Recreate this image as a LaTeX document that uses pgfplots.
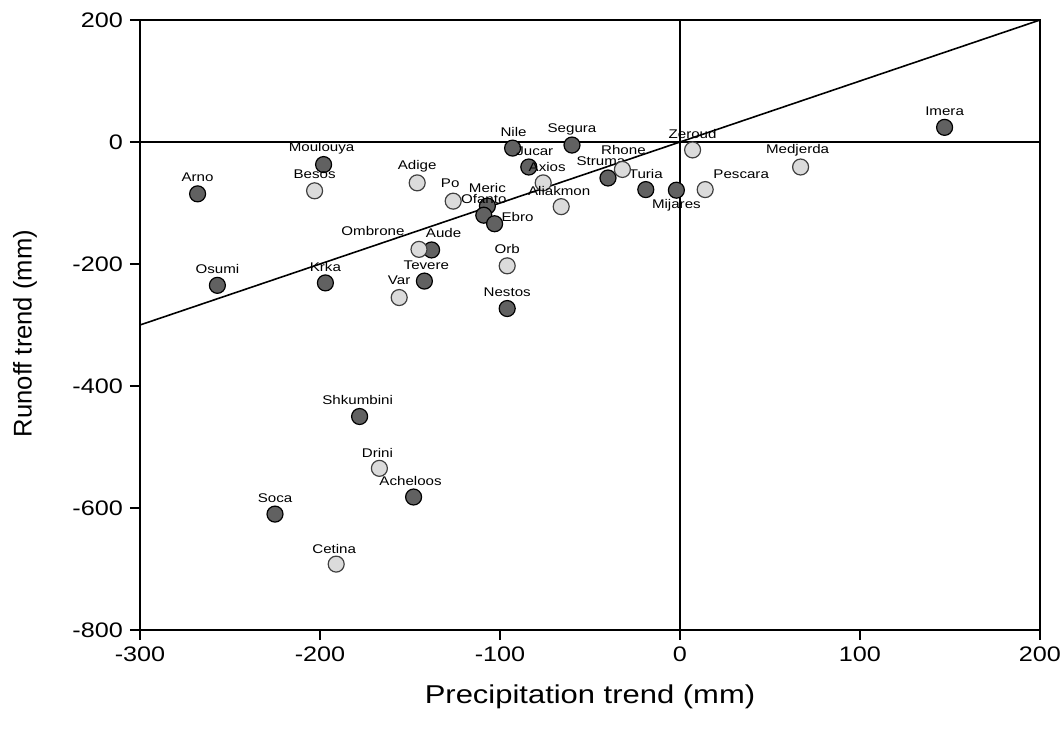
\documentclass[border=0pt]{standalone}
\usepackage{fontspec}
\setmainfont{Liberation Sans}[FakeStretch=1.2]
\newfontfamily\plainfont{Liberation Sans}
\usepackage{pgfplots}
\pgfplotsset{compat=1.18}
\usepackage{pgfplotstable}

\definecolor{darkfill}{gray}{0.38}
\definecolor{lightfill}{gray}{0.86}

\pgfplotstableread{
x y label dx dy
-268 -85 Arno 0 8.5
-257 -235 Osumi 0 8
-198 -37 Moulouya -1 8
-197 -231 Krka 0 8
-138 -177 Aude 6 8.5
-142 -228 Tevere 1 8
-93 -10 Nile 0.5 8
-84 -41 Jucar 3 8
-60 -5 Segura 0 8
-107 -105 Meric 0 9
-109 -120 Ofanto 0 8
-103 -134 Ebro 11.5 3.5
-40 -59 Struma -3.5 8.5
-19 -78 Turia 0 8
-2 -79 Mijares 0 -7.5
-96 -273 Nestos 0 8
147 24 Imera 0 8
-178 -450 Shkumbini -1 8
-148 -582 Acheloos -1.5 8
-225 -610 Soca 0 8
}\darktable

\pgfplotstableread{
x y label dx dy
-203 -80 Besos 0 8.5
-146 -67 Adige 0 8.5
-126 -97 Po -1.5 9
-145 -176 Ombrone -23 9
-156 -255 Var 0 8.5
-76 -67 Axios 2 8
-66 -106 Aliakmon -1 8
-32 -45 Rhone 0.5 9.5
7 -13 Zeroud 0 8
14 -78 Pescara 18 7.5
67 -41 Medjerda -1.5 8.5
-96 -203 Orb 0 8.5
-167 -535 Drini -1 7.5
-191 -692 Cetina -1 7.5
}\lighttable

\begin{document}
\begin{tikzpicture}
\useasboundingbox (-70pt,-51pt) rectangle (460.5pt,315pt);
\begin{axis}[
  scale only axis,
  width=450pt, height=305pt,
  xmin=-300, xmax=200, ymin=-800, ymax=200,
  xtick={-300,-200,-100,0,100,200},
  ytick={-800,-600,-400,-200,0,200},
  tick align=outside,
  xtick pos=bottom, ytick pos=left,
  major tick length=5pt,
  axis line style={line width=0.8pt},
  tick style={line width=0.7pt, black},
  /pgf/number format/assume math mode=true,
  ticklabel style={font=\fontsize{10.5}{12}\selectfont},
  xlabel={Precipitation trend (mm)},
  ylabel={Runoff trend (mm)},
  every axis x label/.style={at={(axis description cs:0.5,-0.1098)}, anchor=center, font=\fontsize{12.9}{15}\selectfont},
  every axis y label/.style={at={(axis description cs:-0.1278,0.486)}, anchor=center, rotate=90, font=\plainfont\fontsize{12.8}{15}\selectfont},
  clip=false,
]
\addplot[black, line width=0.8pt] coordinates {(-300,0) (200,0)};
\addplot[black, line width=0.8pt] coordinates {(0,-800) (0,200)};
\addplot[black, line width=0.8pt] coordinates {(-300,-300) (200,200)};

\addplot[only marks, mark=*, mark size=4pt,
  mark options={fill=darkfill, draw=black, line width=0.6pt},
  point meta=explicit symbolic,
  visualization depends on={\thisrow{dx}\as\dx},
  visualization depends on={\thisrow{dy}\as\dy},
  nodes near coords,
  nodes near coords style={anchor=center, xshift=\dx pt, yshift=\dy pt, inner sep=0pt, font=\fontsize{6.3}{7}\selectfont}]
  table[x=x, y=y, meta=label]{\darktable};

\addplot[only marks, mark=*, mark size=4pt,
  mark options={fill=lightfill, draw=black!75, line width=0.6pt},
  point meta=explicit symbolic,
  visualization depends on={\thisrow{dx}\as\dx},
  visualization depends on={\thisrow{dy}\as\dy},
  nodes near coords,
  nodes near coords style={anchor=center, xshift=\dx pt, yshift=\dy pt, inner sep=0pt, font=\fontsize{6.3}{7}\selectfont}]
  table[x=x, y=y, meta=label]{\lighttable};
\end{axis}
\end{tikzpicture}
\end{document}
